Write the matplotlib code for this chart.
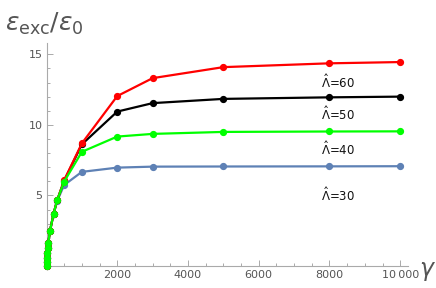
import matplotlib
matplotlib.use("Agg")
import matplotlib.pyplot as plt
from matplotlib.ticker import MultipleLocator, FixedLocator, FuncFormatter

gamma = [0, 5, 10, 20, 30, 50, 100, 200, 300, 500, 1000, 2000, 3000, 5000, 8000, 10000]
eps_30 = [0.0, 0.3, 0.55, 0.9, 1.25, 1.65, 2.5, 3.7, 4.6, 5.74, 6.67, 6.97, 7.04, 7.05, 7.06, 7.07]
eps_40 = [0.0, 0.3, 0.55, 0.9, 1.25, 1.65, 2.5, 3.7, 4.65, 5.98, 8.09, 9.17, 9.36, 9.5, 9.53, 9.54]
eps_50 = [0.0, 0.3, 0.55, 0.9, 1.25, 1.65, 2.5, 3.7, 4.65, 6.05, 8.62, 10.94, 11.54, 11.84, 11.95, 12.0]
eps_60 = [0.0, 0.3, 0.55, 0.9, 1.25, 1.65, 2.5, 3.7, 4.65, 6.08, 8.69, 12.04, 13.31, 14.09, 14.36, 14.45]
labels = ["$\\hat{\\Lambda}$=30", "$\\hat{\\Lambda}$=40", "$\\hat{\\Lambda}$=50", "$\\hat{\\Lambda}$=60"]
label_x = [8240, 8240, 8240, 8240]
label_y = [5.04, 8.28, 10.78, 13.03]

colors = {"30": "#5E81B5", "40": "#00FF00", "50": "#000000", "60": "#FF0000"}

fig = plt.figure(figsize=(4.36, 2.88), dpi=100)
ax = fig.add_axes([46.5/436, 1-266/288, (408-46.5)/436, (266-43)/288])

series = [("30", eps_30), ("50", eps_50), ("60", eps_60), ("40", eps_40)]
for key, ys in series:
    ax.plot(gamma, ys, color=colors[key], lw=1.6, marker="o", ms=4.2,
            clip_on=False, zorder=3)

for lab, lx, ly in zip(labels, label_x, label_y):
    ax.text(lx, ly, lab, ha="center", va="center", fontsize=8.5, color="#111111",
            family="DejaVu Sans")

ax.set_xlim(0, 10220)
ax.set_ylim(0, 15.8)
for s in ["top", "right"]:
    ax.spines[s].set_visible(False)
for s in ["left", "bottom"]:
    ax.spines[s].set_color("#AAAAAA")
    ax.spines[s].set_linewidth(0.8)

ax.xaxis.set_major_locator(FixedLocator([2000, 4000, 6000, 8000, 10000]))
ax.xaxis.set_minor_locator(MultipleLocator(500))
ax.yaxis.set_major_locator(FixedLocator([5, 10, 15]))
ax.yaxis.set_minor_locator(MultipleLocator(1))

def xfmt(v, pos):
    v = int(round(v))
    if v >= 10000:
        return "10\u2009000"
    return str(v)
ax.xaxis.set_major_formatter(FuncFormatter(xfmt))

ax.tick_params(which="both", direction="in", color="#AAAAAA", labelcolor="#555555",
               labelsize=8, width=0.7)
ax.tick_params(which="major", length=4, pad=3)
ax.tick_params(which="minor", length=2.2)

fig.text(5/436, 1-31/288, "$\\varepsilon_{\\mathrm{exc}}/\\varepsilon_0$", fontsize=18,
         color="#555555", ha="left", va="baseline")
fig.text(419/436, 1-271/288, "$\\gamma$", fontsize=17, color="#555555",
         ha="left", va="center")

fig.savefig("out.png", dpi=100)
